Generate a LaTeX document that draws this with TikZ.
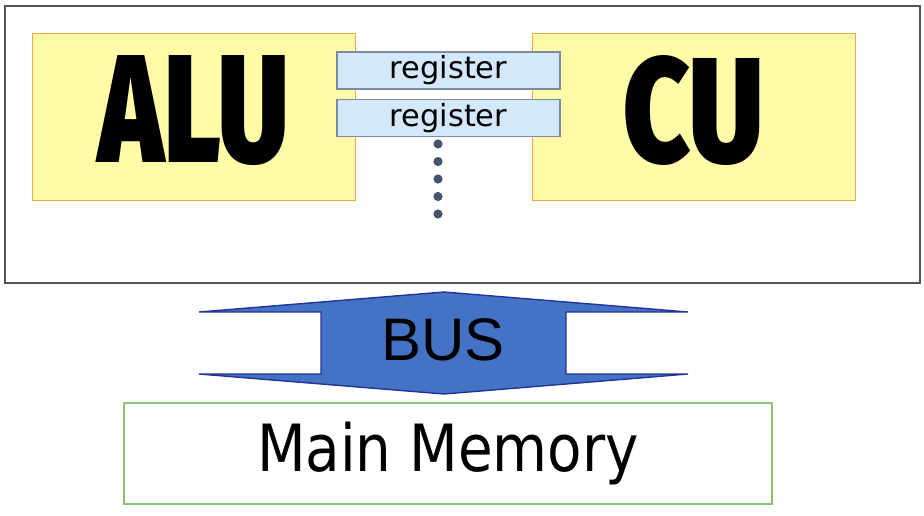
\documentclass[tikz,border=0pt]{standalone}
\usepackage{fontspec}
\usepackage{graphicx}
\usepackage{tikz}
\usetikzlibrary{positioning,calc}

\newfontfamily\heavyfont{Fira Sans Black}
\newfontfamily\regfont{DejaVu Sans}
\newfontfamily\busfont{Liberation Sans}
\newfontfamily\memfont{DejaVu Sans}

\definecolor{unitfill}{HTML}{FFFBA6}
\definecolor{unitline}{HTML}{F4A64A}
\definecolor{regfill}{HTML}{D3E9FB}
\definecolor{regline}{HTML}{7D8BA0}
\definecolor{dotcol}{HTML}{44546A}
\definecolor{busfill}{HTML}{4472C4}
\definecolor{busline}{HTML}{23339B}
\definecolor{memline}{HTML}{8CC47A}
\definecolor{frameline}{HTML}{555555}

\begin{document}
\begin{tikzpicture}[
    x=0.5pt, y=-0.5pt,
    frame/.style={draw=frameline, line width=0.75pt, minimum width=457.5pt, minimum height=138.5pt, inner sep=0pt},
    unit/.style={draw=unitline, fill=unitfill, line width=0.5pt, minimum width=161.5pt, minimum height=83.5pt, inner sep=0pt, text depth=7.5pt},
    reg/.style={draw=regline, fill=regfill, line width=0.6pt, minimum width=111.5pt, minimum height=18.5pt, inner sep=0pt, font=\regfont\fontsize{15.2}{15}\selectfont},
    dot/.style={circle, fill=dotcol, minimum size=4.6pt, inner sep=0pt},
    busarrow/.style={draw=busline, fill=busfill, line width=0.7pt, line join=miter},
    memory/.style={draw=memline, line width=0.75pt, minimum width=324pt, minimum height=50.5pt, inner sep=0pt}
]
\useasboundingbox (0,0) rectangle (924,515);

% CPU
\node[frame] (cpu) at (462.5,144.5) {};
\node[unit] (alu) at (194,116.5) {\heavyfont\resizebox*{95pt}{55pt}{ALU}};
\node[unit] (cu) at (693.5,116.5) {\heavyfont\resizebox*{70pt}{55pt}{CU}};

% Registers
\node[reg] (reg1) at (448.5,70.5) {register};
\node[reg, below=4.5pt of reg1] (reg2) {register};
\foreach \y/\n in {144/1,161.5/2,179/3,196.5/4,214/5}
    \node[dot] (dot\n) at (438,\y) {};

% Bus
\draw[busarrow] (199,312) -- (444,292) -- (688,312) -- (566,312) -- (566,374) -- (688,374)
    -- (444,394) -- (199,374) -- (321,374) -- (321,312) -- cycle;
\node[font=\busfont\fontsize{30}{30}\selectfont] (bus) at (443,340) {BUS};

% Memory
\node[memory] (mem) at (448,453.5) {\memfont\resizebox*{191pt}{31.5pt}{Main Memory}};

\end{tikzpicture}
\end{document}
